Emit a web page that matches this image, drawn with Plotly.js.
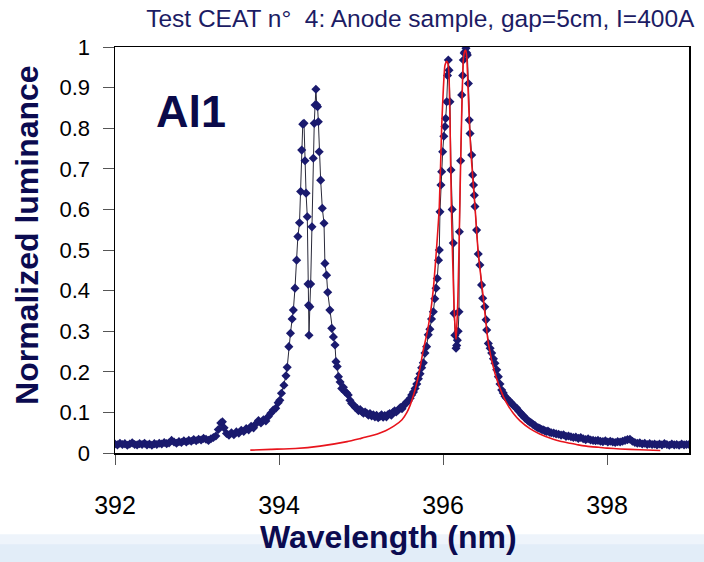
<!DOCTYPE html>
<html>
<head>
<meta charset="utf-8">
<script src="https://cdn.plot.ly/plotly-3.0.1.min.js"></script>
<style>html,body{margin:0;padding:0;background:#fff;}#chart{width:704px;height:562px;}</style>
</head>
<body>
<div id="chart"></div>
<script>
// Measured spectrum (blue diamonds)
const measX = [
392.00,392.03,392.06,392.09,392.12,392.15,392.18,392.21,392.24,392.27,392.30,392.33,392.36,392.39,392.42,392.45,392.48,392.51,392.54,392.57,
392.60,392.63,392.66,392.69,392.72,392.75,392.78,392.81,392.84,392.87,392.90,392.93,392.96,392.99,393.02,393.05,393.08,393.11,393.14,393.17,
393.20,393.23,393.26,393.29,393.31,393.33,393.36,393.39,393.42,393.45,393.48,393.51,393.54,393.57,393.60,393.63,393.66,393.69,393.72,393.75,
393.78,393.81,393.84,393.87,393.90,393.93,393.96,393.99,394.01,394.03,394.06,394.085,394.10,394.12,394.14,394.16,394.175,394.195,394.215,394.23,
394.25,394.264,394.277,394.29,394.305,394.317,394.33,394.345,394.354,394.36,394.366,394.376,394.386,394.402,394.418,394.43,394.44,394.45,394.46,394.47,
394.48,394.49,394.508,394.528,394.549,394.56,394.58,394.594,394.62,394.643,394.663,394.683,394.695,394.71,394.725,394.745,394.765,394.785,394.805,394.825,
394.845,394.865,394.886,394.91,394.93,394.95,394.97,394.99,395.01,395.03,395.05,395.07,395.09,395.11,395.13,395.15,395.17,395.19,395.21,395.23,
395.25,395.27,395.29,395.31,395.33,395.35,395.37,395.39,395.41,395.43,395.455,395.48,395.50,395.516,395.54,395.56,395.577,395.60,395.618,395.64,
395.66,395.68,395.70,395.72,395.74,395.76,395.78,395.80,395.82,395.84,395.86,395.882,395.90,395.915,395.93,395.945,395.955,395.963,395.975,395.984,
395.996,396.01,396.024,396.033,396.045,396.055,396.065,396.073,396.085,396.098,396.112,396.126,396.134,396.145,396.159,396.167,396.175,396.185,396.195,396.20,
396.215,396.228,396.24,396.248,396.258,396.268,396.28,396.29,396.297,396.31,396.32,396.33,396.35,396.362,396.372,396.382,396.39,396.41,396.43,396.45,
396.47,396.484,396.51,396.525,396.533,396.553,396.575,396.594,396.615,396.634,396.655,396.675,396.695,396.716,396.735,396.755,396.776,396.80,396.82,396.838,
396.86,396.88,396.90,396.92,396.94,396.96,396.98,397.00,397.02,397.04,397.06,397.08,397.10,397.12,397.14,397.16,397.18,397.20,397.22,397.24,
397.26,397.28,397.30,397.32,397.35,397.38,397.41,397.44,397.47,397.50,397.53,397.56,397.59,397.62,397.65,397.68,397.71,397.74,397.77,397.80,
397.83,397.86,397.89,397.92,397.95,397.98,398.01,398.04,398.07,398.10,398.13,398.16,398.19,398.22,398.25,398.28,398.31,398.34,398.37,398.40,
398.43,398.46,398.49,398.52,398.55,398.58,398.61,398.64,398.67,398.70,398.73,398.76,398.79,398.82,398.85,398.88,398.91,398.94,398.97,399.00
];
const measY = [
.022,.020,.024,.021,.023,.019,.022,.025,.021,.020,.023,.021,.024,.020,.022,.019,.023,.021,.024,.022,
.026,.023,.025,.031,.027,.024,.028,.026,.030,.027,.031,.029,.033,.030,.034,.032,.036,.034,.031,.035,
.038,.042,.058,.074,.077,.062,.048,.044,.050,.045,.052,.049,.056,.053,.060,.057,.066,.062,.072,.080,
.074,.082,.079,.090,.098,.106,.110,.124,.130,.147,.167,.190,.211,.262,.295,.330,.352,.406,.475,.533,
.567,.644,.746,.810,.812,.720,.640,.582,.416,.364,.290,.360,.416,.557,.726,.812,.857,.896,.857,.853,
.816,.742,.672,.603,.566,.467,.438,.396,.352,.307,.286,.266,.225,.213,.188,.175,.159,.162,.151,.148,
.143,.130,.122,.118,.112,.110,.104,.107,.102,.098,.101,.098,.093,.097,.091,.094,.089,.093,.087,.090,
.094,.088,.092,.089,.095,.097,.093,.100,.104,.101,.106,.112,.109,.116,.121,.126,.128,.135,.143,.150,
.159,.170,.183,.195,.210,.222,.246,.262,.291,.305,.330,.348,.380,.406,.430,.475,.500,.594,.660,.693,
.742,.780,.804,.824,.865,.930,.968,.943,.865,.697,.600,.517,.344,.290,.258,.265,.278,.300,.348,.545,
.720,.882,.930,.968,.985,.988,.997,.985,.980,.910,.820,.787,.734,.685,.660,.635,.607,.549,.490,.463,
.414,.381,.360,.328,.303,.270,.258,.246,.232,.221,.205,.188,.170,.155,.148,.140,.135,.130,.126,.122,
.117,.113,.110,.104,.100,.094,.092,.086,.083,.079,.076,.074,.070,.068,.064,.062,.061,.058,.057,.055,
.053,.054,.051,.050,.049,.047,.046,.044,.045,.041,.042,.040,.038,.039,.036,.038,.035,.033,.035,.032,
.031,.030,.031,.029,.028,.030,.027,.029,.027,.026,.028,.027,.029,.031,.033,.034,.029,.026,.024,.025,
.022,.024,.021,.023,.021,.022,.020,.022,.020,.023,.021,.019,.022,.020,.021,.019,.022,.020,.021,.021
];
// Fitted profile (red line)
const fitX = [393.65,393.90,394.20,394.50,394.83,395.00,395.10,395.20,395.30,395.40,395.50,395.56,395.60,395.64,395.68,395.72,395.76,395.80,395.84,395.88,
395.92,395.955,395.984,396.005,396.024,396.045,396.06,396.073,396.085,396.093,396.105,396.118,396.135,396.15,396.159,396.168,396.18,396.195,396.207,396.228,
396.248,396.265,396.277,396.29,396.305,396.317,396.335,396.35,396.39,396.43,396.49,396.553,396.634,396.736,396.80,396.857,396.94,397.06,397.18,397.345,
397.43,397.55,397.65,397.75,397.90,398.00,398.16,398.40,398.65];
const fitY = [.007,.009,.011,.017,.028,.036,.041,.047,.055,.066,.082,.100,.118,.142,.172,.210,.254,.290,.335,.400,
.500,.607,.804,.900,.955,.965,.960,.930,.820,.713,.580,.475,.360,.300,.280,.310,.369,.500,.631,.837,
.968,.990,.992,.975,.900,.837,.760,.713,.607,.492,.385,.270,.196,.139,.115,.098,.079,.060,.047,.034,
.029,.024,.020,.017,.014,.012,.010,.008,.006];

const xTicks = [392, 394, 396, 398];
const yTicks = [0, 0.1, 0.2, 0.3, 0.4, 0.5, 0.6, 0.7, 0.8, 0.9, 1];
const yTickText = ['0','0.1','0.2','0.3','0.4','0.5','0.6','0.7','0.8','0.9','1'];

const titleText = 'Test CEAT n\u00B0  4: Anode sample, gap=5cm, I=400A';
const xTitle = 'Wavelength (nm)';
const yTitle = 'Normalized luminance';
const lineLabel = 'Al1';

const FONT = 'Arial, "Liberation Sans", sans-serif';

const traces = [
  {
    x: measX, y: measY, type: 'scatter', mode: 'lines+markers',
    line: {color: '#2a2a3a', width: 1},
    marker: {symbol: 'diamond', size: 7, color: '#1a1a6e'},
    showlegend: false, hoverinfo: 'skip'
  },
  {
    x: fitX, y: fitY, type: 'scatter', mode: 'lines',
    line: {color: '#e8141c', width: 1.6, shape: 'spline', smoothing: 0.5},
    showlegend: false, hoverinfo: 'skip'
  }
];

const layout = {
  width: 704, height: 562,
  margin: {l: 115, r: 15, t: 47, b: 109},
  paper_bgcolor: '#ffffff', plot_bgcolor: '#ffffff',
  font: {family: FONT, color: '#000'},
  title: {
    text: titleText, x: 0.597, xref: 'container', xanchor: 'center',
    y: 0.968, yref: 'container', yanchor: 'middle',
    font: {family: FONT, size: 24.5, color: '#1c1c64'}
  },
  xaxis: {
    range: [392, 399], tickvals: xTicks, ticktext: xTicks.map(String),
    showgrid: false, zeroline: false,
    showline: true, linecolor: '#000', linewidth: 1.5, mirror: true,
    ticks: 'outside', ticklen: 10, tickwidth: 1, tickcolor: '#555',
    ticklabelstandoff: 19,
    tickfont: {family: FONT, size: 25, color: '#000'}
  },
  yaxis: {
    range: [0, 1], tickvals: yTicks, ticktext: yTickText,
    showgrid: false, zeroline: false,
    showline: true, linecolor: '#000', linewidth: 1.5, mirror: true,
    ticks: 'outside', ticklen: 11, tickwidth: 1, tickcolor: '#555',
    ticklabelstandoff: 8,
    tickfont: {family: FONT, size: 22, color: '#000'}
  },
  annotations: [
    {x: 392.93, y: 0.842, xref: 'x', yref: 'y', text: lineLabel, showarrow: false,
     xanchor: 'center', yanchor: 'middle',
     font: {family: FONT, size: 45, color: '#0a0a4a', weight: 'bold'}},
    {x: 0.477, y: -0.207, xref: 'paper', yref: 'paper', text: xTitle, showarrow: false,
     xanchor: 'center', yanchor: 'middle',
     font: {family: FONT, size: 32, color: '#0b0b50', weight: 'bold'}},
    {x: -0.1533, y: 0.537, xref: 'paper', yref: 'paper', text: yTitle, showarrow: false,
     textangle: -90, xanchor: 'center', yanchor: 'middle',
     font: {family: FONT, size: 32, color: '#0b0b50', weight: 'bold'}}
  ],
  shapes: [
    {type: 'rect', xref: 'paper', yref: 'paper', x0: -0.3, x1: 1.1, y0: -0.27, y1: -0.2,
     fillcolor: '#eef4fb', line: {width: 0}, layer: 'below'},
    {type: 'rect', xref: 'paper', yref: 'paper', x0: -0.3, x1: 1.1, y0: -0.27, y1: -0.225,
     fillcolor: '#e2edf8', line: {width: 0}, layer: 'below'}
  ]
};

Plotly.newPlot('chart', traces, layout, {staticPlot: true, displayModeBar: false});
</script>
</body>
</html>
